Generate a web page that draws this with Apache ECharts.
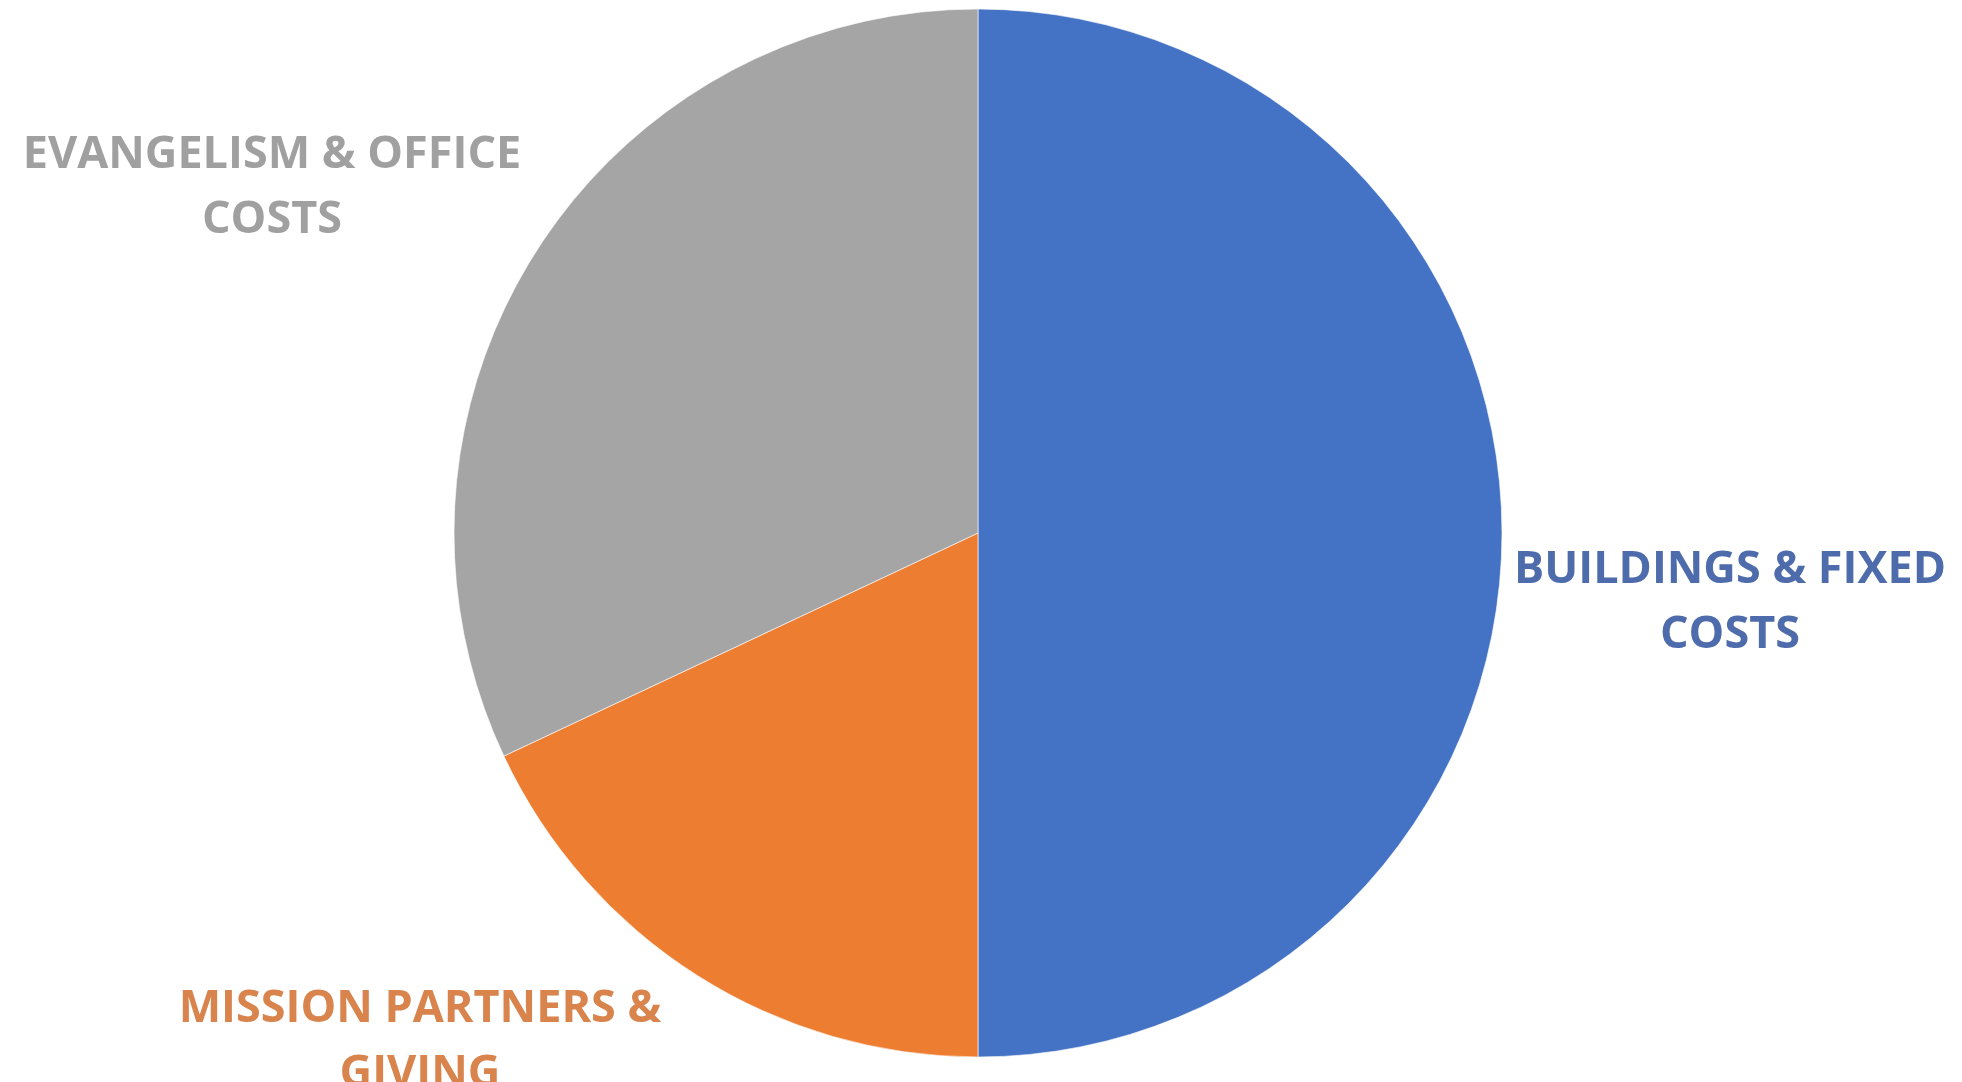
<!DOCTYPE html>
<html>
<head>
<meta charset="utf-8">
<script src="https://cdn.jsdelivr.net/npm/echarts@6/dist/echarts.min.js"></script>
<style>
  html, body { margin: 0; padding: 0; background: #fff; }
  #chart { width: 1962px; height: 1082px; }
</style>
</head>
<body>
<div id="chart"></div>
<script>
// categories and shares
var categories = ['BUILDINGS & FIXED\nCOSTS', 'MISSION PARTNERS &\nGIVING', 'EVANGELISM & OFFICE\nCOSTS'];
var values = [50, 18, 32];
var sliceColors = ['#4472C4', '#ED7D31', '#A5A5A5'];
var labelColors = ['#4E6CAC', '#D8844C', '#A0A0A0'];

// label anchor positions (centre of the text block)
var labelPos = [[1730, 603], [420, 1042], [272, 188]];

var chart = echarts.init(document.getElementById('chart'));

var option = {
  animation: false,
  series: [{
    type: 'pie',
    center: [978, 533],
    radius: 524,
    startAngle: 90,
    clockwise: true,
    avoidLabelOverlap: false,
    itemStyle: { borderColor: 'rgba(255,255,255,0.6)', borderWidth: 1 },
    label: {
      show: true,
      position: 'outside',
      formatter: '{b}',
      fontFamily: '"Open Sans"',
      fontWeight: 'bold',
      fontSize: 45,
      lineHeight: 65,
      align: 'center'
    },
    labelLine: { show: false },
    labelLayout: function (params) {
      var p = labelPos[params.dataIndex];
      return { x: p[0], y: p[1], align: 'center', verticalAlign: 'middle' };
    },
    data: categories.map(function (c, i) {
      return {
        name: c,
        value: values[i],
        itemStyle: { color: sliceColors[i] },
        label: { color: labelColors[i] }
      };
    })
  }]
};

chart.setOption(option);
</script>
</body>
</html>
